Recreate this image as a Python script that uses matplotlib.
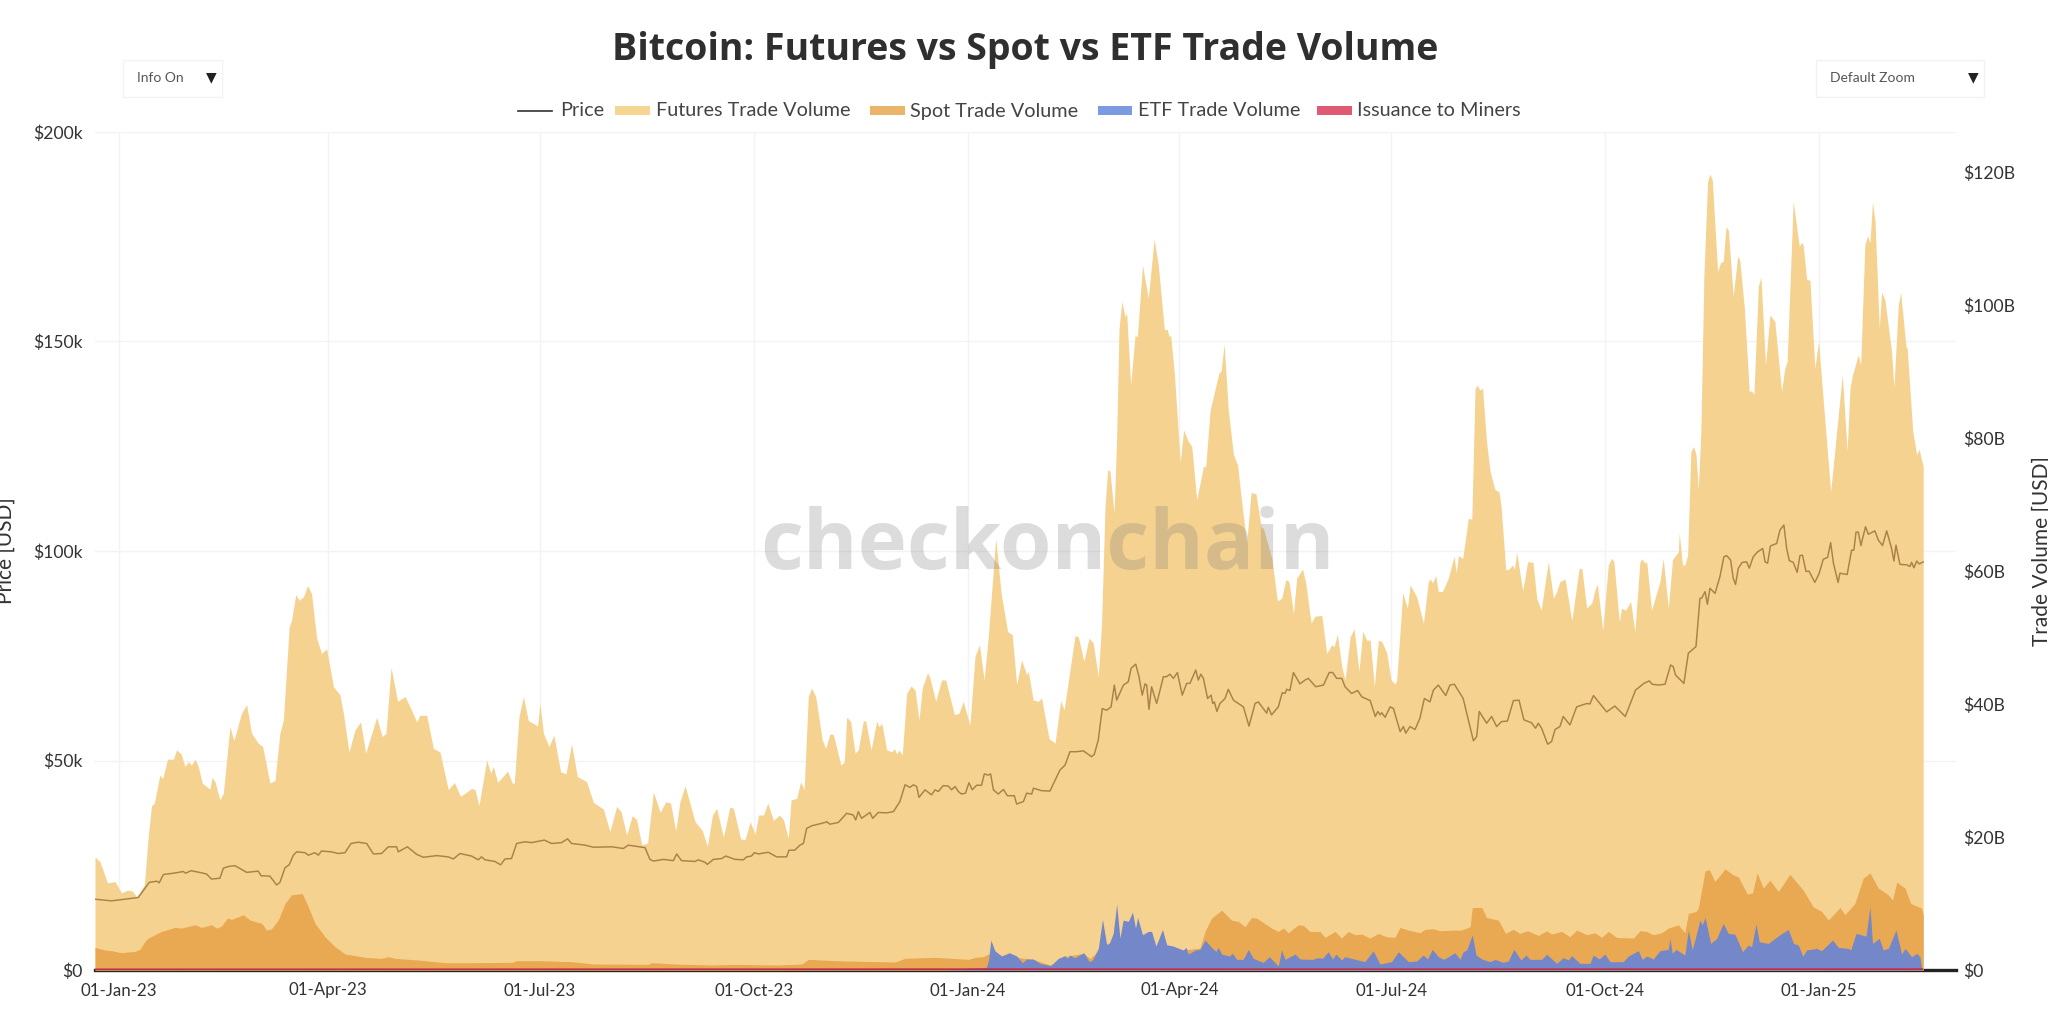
import numpy as np
import matplotlib
matplotlib.use("Agg")
import matplotlib.pyplot as plt
import matplotlib.dates as mdates
from matplotlib.patches import Rectangle, FancyBboxPatch
from matplotlib.lines import Line2D

# days are counted from 2023-01-01; volumes in $B, price in $k
fut_days = [-10.3,-8.2,-4.9,-1.7,1.1,3.6,5.7,7.6,10.9,12.6,14.0,15.2,17.6,18.8,20.9,23.4,24.8,26.7,28.4,29.8,31.2,32.7,34.1,35.8,39.1,40.1,41.3,43.4,44.9,47.7,49.4,52.7,54.9,57.0,59.9,61.8,64.9,67.1,69.2,70.7,73.2,74.2,76.0,77.5,79.3,81.1,82.8,85.0,87.1,89.3,92.2,95.0,96.5,98.9,101.5,103.9,106.1,110.8,113.2,114.8,117.0,119.8,123.0,125.8,128.0,129.4,132.3,135.2,138.0,141.6,144.2,146.9,151.6,153.1,154.8,158.1,159.8,161.0,162.8,167.1,169.1,170.0,172.0,173.9,176.0,180.0,181.0,182.5,184.9,187.0,189.9,192.2,194.6,197.1,201.1,204.0,
 208.3,211.1,214.0,215.9,218.3,220.7,222.6,224.8,227.3,229.8,232.7,235.1,237.2,239.4,241.2,243.4,245.1,247.7,250.8,253.0,255.2,257.0,259.9,262.7,264.2,267.3,269.2,271.4,273.5,275.0,277.1,279.0,281.4,284.0,285.7,287.8,289.0,291.4,293.1,294.6,296.4,297.8,299.6,302.4,303.9,305.7,307.2,310.4,311.9,312.9,314.6,316.5,317.9,320.1,321.1,323.4,325.8,326.8,328.0,330.1,332.3,333.4,334.4,335.4,336.8,338.7,340.6,342.3,344.0,345.4,347.7,348.7,351.2,353.7,355.5,359.2,361.2,363.0,365.9,368.1,370.0,372.0,373.8,377.0,379.3,382.1,384.1,386.0,388.1,390.3,391.0,393.1,395.3,396.7,399.9,402.5,404.9,406.4,411.1,412.5,414.9,417.1,418.9,
 421.1,422.5,424.0,425.1,426.1,427.9,429.0,430.0,431.2,432.6,433.3,435.0,436.9,437.9,440.1,442.6,445.1,446.9,449.5,450.8,451.5,452.2,453.8,456.3,457.8,459.6,461.3,463.4,466.3,467.3,469.2,473.0,473.9,475.2,477.0,479.2,481.0,482.8,484.9,486.8,488.9,491.1,492.1,495.7,498.1,500.0,501.7,503.1,505.0,506.4,508.9,510.3,512.6,514.3,517.2,519.3,521.5,522.5,523.9,525.8,527.2,529.4,531.1,533.2,534.8,536.5,538.0,539.8,541.5,543.0,545.1,547.0,548.7,549.4,552.0,554.0,555.2,558.0,560.9,563.0,563.8,564.8,566.2,567.3,569.1,571.6,574.1,575.0,575.9,577.8,580.2,581.7,583.1,584.1,585.2,586.3,588.1,589.6,591.7,593.4,594.3,596.3,597.4,599.3,600.0,601.0,603.6,605.7,608.0,609.6,611.5,614.6,616.8,618.2,619.6,621.8,624.7,627.8,629.0,631.1,633.3,
 634.7,635.7,638.0,640.4,641.8,642.8,645.1,646.1,647.8,650.0,651.8,654.0,655.0,655.9,656.9,659.0,662.6,664.0,666.2,668.0,670.5,670.9,672.3,673.3,674.5,675.9,677.1,678.1,679.1,680.2,681.5,683.1,684.1,685.1,687.4,688.7,689.8,691.0,692.0,694.1,696.0,696.9,698.9,701.0,702.0,703.0,704.9,706.0,708.0,709.9,712.0,714.9,716.3,717.3,719.9,722.5,723.5,724.2,725.7,727.1,729.2,730.8,732.5,736.0,741.0,743.1,744.3,745.4,747.9,748.9,750.7,751.9,752.9,754.0,755.1,756.9,757.9,759.3,762.2,763.2,765.1,766.1,768.4,768.9,771.3,773.0,774.0,775.8]
fut_vals = [17.0,16.3,13.1,13.3,11.6,12.0,11.9,11.0,12.8,20.1,24.7,25.1,29.3,28.8,31.7,31.7,33.1,32.5,30.6,31.3,30.8,31.7,30.6,28.1,27.2,29.0,28.3,25.6,26.6,36.6,34.5,38.6,39.9,35.6,34.1,33.6,28.1,28.5,35.6,37.6,51.6,52.6,56.4,55.6,56.1,57.8,56.6,49.9,47.6,48.3,42.6,41.4,38.6,32.8,36.1,37.3,32.6,38.0,35.1,35.6,45.5,40.4,41.1,39.1,37.3,38.3,38.3,33.3,32.8,27.1,28.2,26.1,27.3,27.1,24.7,31.6,29.6,30.6,28.2,29.9,28.1,28.1,38.1,41.1,37.5,36.7,40.1,35.6,33.6,35.3,29.8,29.5,34.0,29.1,28.3,25.2,
 24.2,20.8,24.6,23.8,20.3,23.2,22.6,18.8,19.1,26.8,23.7,25.3,25.1,20.9,25.3,27.7,25.6,22.3,21.0,18.6,23.3,24.3,20.0,24.5,24.3,19.7,19.6,22.3,20.4,23.3,23.3,25.1,22.5,23.3,22.6,19.8,25.6,25.8,28.3,27.1,41.1,42.4,41.1,34.6,33.3,35.5,35.4,30.8,31.3,38.0,37.4,32.6,33.1,37.5,37.4,33.1,37.4,36.6,37.1,33.1,32.8,33.3,32.5,33.1,32.3,41.6,42.7,42.1,37.6,42.4,44.7,43.9,40.4,43.6,43.6,38.4,38.6,40.4,36.8,47.2,48.9,43.6,50.1,64.9,56.7,50.9,50.4,42.9,46.6,44.4,44.9,40.6,40.4,40.9,34.8,34.1,40.5,39.1,50.3,50.1,46.4,49.9,49.2,
 44.1,52.1,69.7,75.2,75.0,68.7,80.2,96.3,100.5,98.2,98.8,88.0,95.4,95.2,106.0,101.0,109.9,106.0,96.3,96.3,95.2,95.5,89.7,76.4,81.2,79.6,78.7,70.7,75.7,75.7,84.2,89.8,90.0,94.1,84.2,77.5,75.9,70.2,64.2,71.8,71.6,66.6,66.4,61.9,55.5,55.9,58.7,58.4,53.6,58.9,60.3,58.2,52.2,53.2,53.3,47.6,48.9,48.6,50.5,45.6,43.6,50.1,51.3,44.9,50.9,49.6,49.6,42.6,49.6,49.4,47.7,43.6,43.0,43.6,56.7,54.4,57.9,56.1,52.1,58.4,58.8,58.2,59.3,56.9,56.9,58.9,62.2,59.7,62.3,61.9,67.9,67.8,87.5,87.9,87.2,87.5,79.2,74.9,72.2,71.9,69.7,60.2,60.2,60.9,60.2,62.8,57.0,61.4,61.3,55.9,54.1,61.4,55.9,56.9,58.4,58.8,52.5,60.3,60.4,54.4,55.2,
 57.2,58.0,51.1,60.9,61.9,61.4,52.4,54.4,54.1,55.4,50.9,61.4,61.8,61.2,61.4,54.1,58.4,61.9,54.4,61.7,62.9,65.7,60.9,60.9,62.4,78.0,78.7,77.5,72.2,81.0,104.5,118.6,119.7,118.8,105.0,106.4,106.5,111.7,111.3,101.3,107.3,106.8,99.5,87.0,87.1,86.5,102.8,104.2,91.0,98.5,97.5,87.0,90.5,91.5,115.6,108.8,109.4,109.0,103.8,103.7,90.5,94.5,87.0,71.9,89.5,78.0,87.5,89.5,92.5,91.0,109.0,110.4,109.3,115.5,112.5,96.5,101.9,100.8,93.0,87.5,100.0,101.9,93.7,93.5,81.0,77.5,78.3,75.7]

spot_days = [-10.3,-6,-3.2,1.1,6.9,9,11.2,12.6,18.3,24,26.9,32.7,35.5,39.8,42,44.1,46.6,48.4,53.5,56.4,61.4,63.5,65.6,68.5,71.4,74.2,78.8,81.4,84.3,88.6,92.9,97.2,104.3,105.8,113,115.8,118.7,128.7,140.2,154.5,169,171,180.3,194.6,204,227.6,229,239,254.9,264.9,283.5,293.6,296.4,307.9,319.4,333.7,338,351,365.3,368.1,371.6,373.8,378.8,386,393.1,400.3,406,414.6,417.5,425,435,446.2,457.6,464.8,467,469.8,474.1,478.4,481.3,484.2,487,489.2,495.6,498.5,500.7,502.8,507.1,509.3,512.1,516.4,518.6,522.9,525.7,528.6,531.4,534.3,537.9,541.5,545,548.6,550.8,554.4,559.4,561.5,565.1,568,573.7,577.3,581,581.9,586,588,593.1,596.2,599.5,602.4,605.6,610.3,613.9,616,620.3,623.9,626.8,631.1,634.7,637.5,640.4,644,651.2,654,656.9,659.7,663.3,666.2,670.5,673.3,674.8,678.1,679.1,682,683.8,686.2,690.6,694.1,696.3,700.2,702.4,704.4,707,709.9,713.5,718.5,724.2,728.5,732.1,735,740,742.1,746.4,750,752.9,756.5,760.8,762.6,764.4,768,770.4,775.1,775.8]
spot_vals = [3.4,3.0,2.9,2.6,2.8,3.1,4.3,4.8,5.8,6.4,6.3,6.8,6.4,6.8,6.3,6.6,7.8,7.6,8.3,7.5,7.0,6.0,6.2,7.5,10.0,11.3,11.5,9.5,7.0,5.0,3.5,2.4,2.0,1.9,1.75,2.0,1.75,1.5,1.1,1.1,1.15,1.4,1.4,1.25,0.9,0.85,1.1,0.9,0.75,0.85,0.75,0.9,1.6,1.4,1.3,1.2,1.75,1.9,1.6,1.9,2.0,2.4,2.25,1.9,1.6,0.75,2.0,2.5,1.75,4.0,5.0,3.4,3.0,3.3,5.8,7.8,9.0,7.5,7.3,6.5,7.9,7.8,6.3,5.8,6.3,5.6,6.8,6.7,5.8,5.8,4.9,5.8,4.8,5.8,5.3,5.4,4.8,5.5,5.0,4.9,6.4,6.0,5.6,6.1,6.2,5.9,6.0,6.0,6.5,9.4,9.4,7.9,7.5,5.5,6.1,5.5,5.9,5.2,5.9,5.4,5.8,5.0,6.0,5.3,5.6,4.9,5.8,4.9,4.8,5.9,5.8,5.3,5.6,6.3,6.8,5.6,8.5,8.8,9.3,14.9,15.1,13.3,15.2,14.3,14.0,11.4,11.6,14.6,12.3,13.5,11.8,14.4,12.0,9.5,8.8,7.5,9.4,8.3,10.0,13.8,14.6,12.3,11.3,10.5,13.2,12.3,10.0,9.3,8.3]

etf_days = [357.3,365.9,373,373.9,374.9,376.6,379.5,382.8,386,388.5,390.3,393.1,396,400.7,403.9,406.7,407.8,408.9,411,414.9,417.2,418.6,421.1,422.9,424.7,425.8,427.5,429,430.4,431.8,434,435.8,437.1,438,440.1,442.6,444,445.9,448.7,450.5,453.3,457.6,458.8,459.8,462.7,464.8,467,469.8,471.7,472.7,474.1,477.4,478.8,480.6,483.4,485.6,487.7,492,494.6,498.5,499.9,501.4,505.7,507.8,513.5,515,517.5,520,521.8,523.3,525.7,527.1,532.9,535.7,539.3,542.2,547.2,550.1,554.4,558,560.8,562.7,564.7,567.3,569.7,574.4,576.6,578,579.5,581.9,583.5,586,589.5,591.7,595.2,597.4,599.8,602.8,605,606.7,611.7,613.9,618.2,621,623.2,624.6,628.2,632.5,633.9,636.5,638.9,641.1,646.8,649,653.3,655,656.9,659.7,662.6,666.2,666.9,667.9,669.5,673.3,674.8,676.5,679.8,680.8,682,684.4,687,689.8,692,694.8,698.1,700.6,702,703.9,705.3,709.2,714.2,717.8,720,722.1,724,725.7,730,732.1,736.8,739.3,743.6,744.6,746.9,751.2,752.9,754,756.9,758.6,760.8,764.1,766.5,768,770.8,773,774.4,775.1,775.8]
etf_vals = [0.1,0.3,0.4,1.5,4.5,2.9,2.1,2.6,2.1,1.1,1.65,1.65,1.0,0.65,1.75,2.15,1.75,2.25,1.85,2.6,1.25,1.5,3.25,7.6,3.8,4.0,5.5,9.9,4.8,7.5,7.3,8.7,6.3,7.9,5.3,5.8,5.8,3.6,6.1,3.8,3.6,3.0,3.4,2.4,3.0,3.1,4.5,3.4,2.8,3.4,2.4,2.1,2.5,1.6,1.6,3.1,1.75,1.15,2.0,0.6,3.0,1.6,2.4,1.65,1.6,1.85,1.75,2.75,1.65,2.4,1.5,2.0,1.5,1.25,2.9,0.9,1.25,2.75,1.25,1.35,2.25,1.65,3.1,2.0,1.6,2.6,1.6,2.75,3.0,5.3,2.25,1.65,1.25,1.6,1.15,1.35,3.1,1.5,2.25,1.6,1.6,2.35,1.0,1.85,1.5,2.15,1.0,1.0,2.25,1.65,2.4,1.25,1.25,2.1,2.9,1.6,2.1,1.65,2.9,3.1,4.75,2.5,3.1,2.25,6.0,3.0,7.5,6.8,7.9,4.0,4.75,7.0,5.5,5.4,2.75,3.75,3.5,6.9,4.25,4.0,5.3,6.1,4.0,3.75,2.1,3.0,3.25,2.9,4.5,3.4,3.25,3.0,5.5,5.1,9.5,4.0,4.75,3.0,3.25,6.0,2.4,3.25,2.0,2.5,2.0,0.25,0.0]

issuance_days = [-10.3,180,380,474,640,775.8]
issuance_vals = [0.015,0.027,0.04,0.03,0.03,0.044]

price_days = [-10.3,-3.2,2.6,8.3,13.0,16.2,17.3,19.1,23.4,27.7,28.7,31.0,35.5,37.7,39.8,43.4,44.9,47.0,49.9,54.9,59.9,61.1,64.9,67.8,69.2,71.4,73.2,75.0,76.4,80.0,81.4,84.3,85.7,87.1,91.4,94.3,97.2,99.8,102.9,106.5,109.4,112.9,115.8,119.4,120.1,124.0,128.0,130.9,136.6,141.6,143.8,146.6,151.6,154.5,155.9,157.4,161.7,164.1,166.0,168.8,171.0,174.6,177.4,182.9,186.0,190.3,192.9,194.6,200.4,204.0,
 211.8,216.9,219.0,226.2,228.3,229.8,234.1,238.4,239.8,241.9,247.7,249.1,252.0,253.0,255.6,259.2,260.9,264.9,268.5,269.9,272.0,273.2,274.9,279.2,282.8,287.1,288.1,290.6,292.8,294.3,295.7,297.8,303.6,304.3,305.7,309.3,312.9,315.7,316.8,317.9,319.3,322.9,324.1,326.5,330.1,333.0,335.8,338.0,340.1,341.6,343.0,344.0,346.6,349.4,350.9,352.3,354.4,356.6,358.0,359.5,360.9,362.3,364.0,365.5,366.9,368.8,370.9,372.1,373.8,374.8,376.0,378.1,380.3,382.0,385.0,386.0,388.9,390.3,392.5,393.2,396.7,400.3,404.6,406.8,408.9,411.8,414.7,418.2,419.4,
 421.1,422.8,424.7,426.6,428.0,429.0,431.9,434.0,435.2,437.2,438.6,440.0,441.2,441.9,442.9,444.0,446.2,449.1,450.5,451.9,453.4,455.1,457.2,459.1,460.5,463.0,464.1,465.2,466.3,468.1,469.6,470.3,471.0,472.1,473.4,475.6,477.0,479.2,483.5,485.9,488.5,489.9,493.5,494.2,495.6,498.5,500.2,501.4,502.1,503.5,505.0,507.8,510.0,511.4,514.6,517.9,520.4,521.9,523.6,525.8,527.2,530.0,532.6,534.4,538.0,540.2,541.3,542.3,543.0,544.4,546.6,548.0,550.9,552.3,553.3,555.1,557.3,559.4,561.3,563.7,565.2,567.3,570.5,572.3,574.2,578.0,579.5,582.4,583.8,584.9,588.1,590.2,592.4,594.5,597.0,599.6,602.0,604.1,607.4,609.1,610.3,611.7,614.3,616.0,617.5,619.6,621.0,623.9,626.8,631.1,632.5,634.0,
 639.7,643.2,647.7,652.1,655.7,658.0,659.3,661.9,664.8,667.2,668.3,669.3,672.9,674.8,678.1,679.8,680.5,682.0,683.0,684.1,686.3,688.4,690.1,691.3,693.0,694.1,695.1,696.3,698.0,699.9,701.0,702.7,704.6,706.8,707.8,708.9,710.1,712.8,714.2,715.9,717.1,718.2,719.9,721.6,722.8,723.9,725.4,726.7,729.2,731.1,732.8,734.7,736.0,737.2,739.2,740.0,743.1,745.0,746.0,746.9,747.9,749.0,751.0,752.2,755.0,756.5,758.3,760.1,762.2,763.2,764.1,765.8,768.7,770.1,770.8,771.8,773.0,774.1,775.8]
price_vals = [16.9,16.5,16.9,17.3,20.9,21.2,20.8,22.8,23.1,23.5,23.1,23.7,23.2,22.9,21.7,21.9,24.3,24.7,24.9,23.3,23.6,22.5,22.4,20.3,20.9,24.4,25.1,27.4,28.2,28.0,27.4,28.0,27.4,28.4,28.2,27.8,28.0,30.2,30.5,30.2,27.7,27.8,29.4,29.4,28.2,29.4,27.6,26.9,27.3,27.0,26.5,27.8,27.2,26.3,27.0,26.3,25.9,25.1,26.5,26.6,30.2,30.6,30.4,31.0,30.2,30.4,31.3,30.2,29.8,29.3,
 29.4,29.0,29.8,29.2,26.4,26.0,26.4,26.1,27.7,26.1,25.9,26.3,25.7,25.2,26.4,26.6,27.2,26.4,26.3,27.0,27.2,28.0,27.7,28.1,27.0,27.0,28.6,28.6,29.8,30.2,33.8,34.4,35.2,35.4,34.8,35.2,37.4,37.0,35.8,37.8,36.2,37.6,36.2,37.6,37.5,37.8,40.2,44.2,43.6,44.2,43.8,41.2,43.0,41.8,43.0,42.6,44.0,43.9,43.0,43.8,42.6,42.0,42.2,44.7,43.0,44.1,44.1,46.8,46.5,46.8,43.0,42.0,43.1,41.6,41.6,39.6,40.2,42.2,42.0,43.4,42.8,42.7,47.7,48.9,52.1,52.1,52.3,50.9,51.5,
 54.9,62.4,62.0,62.8,68.0,64.4,68.0,68.8,72.0,73.0,70.0,65.6,68.3,68.0,62.2,67.6,63.6,70.0,70.0,70.6,69.6,71.0,65.6,68.4,68.4,71.6,69.2,70.6,69.6,64.8,65.6,63.6,64.0,61.7,63.6,64.8,67.0,64.4,62.8,58.2,63.6,64.0,61.3,62.7,60.9,62.8,66.2,66.0,67.0,66.7,71.0,68.3,69.2,69.6,67.6,68.0,71.0,71.0,69.6,69.6,67.6,66.0,66.7,65.2,64.3,60.5,61.7,60.9,61.4,60.3,62.8,62.4,56.9,58.1,56.5,58.1,57.4,60.1,64.8,64.0,66.8,68.0,65.5,68.0,68.2,64.8,61.3,54.7,55.7,61.7,58.9,60.5,58.1,59.3,59.4,64.3,64.4,59.7,59.0,57.7,58.9,57.7,53.9,54.5,57.4,58.1,60.5,58.5,62.8,63.6,63.5,65.5,
 61.6,63.0,60.5,66.8,68.4,69.0,68.2,68.0,68.2,72.8,72.4,70.4,68.4,75.6,77.2,88.7,88.7,90.3,87.3,91.1,89.9,93.9,98.6,98.9,97.8,93.5,92.0,95.9,97.3,97.4,95.9,98.6,99.8,100.6,97.4,97.1,101.2,101.8,105.0,106.2,100.6,97.7,97.3,94.9,98.9,99.0,95.1,95.2,92.5,94.7,98.0,98.5,102.0,97.1,92.5,94.7,94.4,100.2,100.2,104.5,104.5,101.3,105.8,104.0,104.8,102.6,101.3,104.8,100.6,97.6,101.4,96.8,96.7,96.3,97.3,96.0,97.6,96.9,97.4]

price_ticks = [0, 50, 100, 150, 200]
price_labels = ['$0', '$50k', '$100k', '$150k', '$200k']
vol_ticks = [0, 20, 40, 60, 80, 100, 120]
vol_labels = ['$0', '$20B', '$40B', '$60B', '$80B', '$100B', '$120B']
date_ticks = ['2023-01-01','2023-04-01','2023-07-01','2023-10-01','2024-01-01','2024-04-01','2024-07-01','2024-10-01','2025-01-01']
date_labels = ['01-Jan-23','01-Apr-23','01-Jul-23','01-Oct-23','01-Jan-24','01-Apr-24','01-Jul-24','01-Oct-24','01-Jan-25']

C_FUT, C_SPOT, C_ETF, C_ISS = '#f5d28f', '#e9a852', '#7487c9', '#c42a48'
FONT = 'Lato'
W, H = 2048, 1033
plt.rcParams['font.family'] = [FONT, 'DejaVu Sans']
fig = plt.figure(figsize=(W/100, H/100), dpi=100, facecolor='white')
L, R, T, B = 95, 1956, 132, 970
rect = [L/W, 1-B/H, (R-L)/W, (B-T)/H]

base = mdates.date2num(np.datetime64('2023-01-01'))
d = lambda a: base + np.asarray(a, float)

ax = fig.add_axes(rect)           # price scale, grid at the bottom
ax2 = ax.twinx()                  # volume scale, areas
ax3 = ax.twinx()                  # price scale again, line on top
ax.set_zorder(1); ax2.set_zorder(2); ax3.set_zorder(3)
ax2.patch.set_visible(False); ax3.patch.set_visible(False)

xlim = (d(-10.3), d(789.9))
for a in (ax, ax2, ax3):
    a.set_xlim(*xlim)
    for s in a.spines.values():
        s.set_visible(False)
ax.set_ylim(0, 200); ax3.set_ylim(0, 200); ax2.set_ylim(0, 126)

xt = [mdates.date2num(np.datetime64(t)) for t in date_ticks]
ax.set_xticks(xt); ax.set_xticklabels(date_labels, fontsize=12.2, color='#333333')
ax.tick_params(axis='x', length=0, pad=9)
ax.set_yticks(price_ticks); ax.set_yticklabels(price_labels, fontsize=12.6, color='#333333')
ax.tick_params(axis='y', length=0, pad=9)
ax.grid(True, color='#f3f3f3', lw=1)
ax.set_axisbelow(True)
ax.set_ylabel('Price [USD]', fontsize=15, color='#333333')
ax.yaxis.set_label_coords((16-L)/(R-L), 0.5)

ax2.set_yticks(vol_ticks); ax2.set_yticklabels(vol_labels, fontsize=12.6, color='#333333')
ax2.tick_params(axis='y', length=0, pad=5)
ax2.set_ylabel('Trade Volume [USD]', fontsize=15, color='#333333')
ax2.yaxis.set_label_coords((2032-L)/(R-L), 0.5)
ax3.set_yticks([]); ax3.tick_params(left=False, right=False, labelleft=False, labelright=False)
ax3.xaxis.set_visible(False); ax2.xaxis.set_visible(False)

ax2.axhline(0, color='#222222', lw=2.4, zorder=1, clip_on=False)
ax2.fill_between(d(fut_days), fut_vals, 0, color=C_FUT, lw=0, zorder=2)
ax2.fill_between(d(spot_days), spot_vals, 0, color=C_SPOT, lw=0, zorder=3)
ax2.fill_between(d(etf_days), etf_vals, 0, color=C_ETF, lw=0, zorder=4)
ax2.plot(d(issuance_days), issuance_vals, color=C_ISS, lw=2, zorder=5, solid_capstyle='butt')
ax3.plot(d(price_days), price_vals, color='#a98149', lw=1.05, zorder=5)

# watermark
fig.text(1048/W, 1-547/H, 'checkonchain', ha='center', va='center', fontsize=60,
         fontweight='bold', family='Open Sans', color='#808080', alpha=0.27, zorder=10)
# title
fig.text(1025/W, 1-50/H, 'Bitcoin: Futures vs Spot vs ETF Trade Volume', ha='center', va='center',
         fontsize=27, fontweight='bold', family='Open Sans', color='#2f2f2f')

# legend
def swatch(x0, x1, color):
    fig.add_artist(Rectangle((x0/W, 1-114.5/H), (x1-x0)/W, 8/H, transform=fig.transFigure,
                             facecolor=color, edgecolor='none'))
LEG_Y = 1-111/H
fig.add_artist(Line2D([518/W, 552/W], [LEG_Y, LEG_Y], color='#333333', lw=1.2))
for x0, x1, col, tx, label in [(None, None, None, 560, 'Price'),
                               (615, 650, '#f6d592', 656, 'Futures Trade Volume'),
                               (870, 905, '#eab56b', 910, 'Spot Trade Volume'),
                               (1098, 1132, '#7a9be2', 1138, 'ETF Trade Volume'),
                               (1317, 1352, '#e05a74', 1357, 'Issuance to Miners')]:
    if x0 is not None:
        swatch(x0, x1, col)
    fig.text(tx/W, LEG_Y, label, ha='left', va='center', fontsize=14.3, color='#444444')

# zoom/info buttons
for x0, x1, lab, arrow in [(123, 222, 'Info On', 211), (1816, 1984, 'Default Zoom', 1973)]:
    fig.add_artist(Rectangle((x0/W, 1-97/H), (x1-x0)/W, 37/H, transform=fig.transFigure,
                             facecolor='white', edgecolor='#f2f2f2', lw=1))
    fig.text((x0+14)/W, 1-78/H, lab, ha='left', va='center', fontsize=10, color='#555555')
    fig.text(arrow/W, 1-77/H, '\u25BC', ha='center', va='center', fontsize=10, color='#222222',
             family='DejaVu Sans')

# small pale mark left of the watermark
fig.add_artist(Rectangle((747/W, 1-588/H), 41/W, 7/H, transform=fig.transFigure,
                         facecolor='#fde8cd', edgecolor='none'))

fig.savefig('out.png', dpi=100)
